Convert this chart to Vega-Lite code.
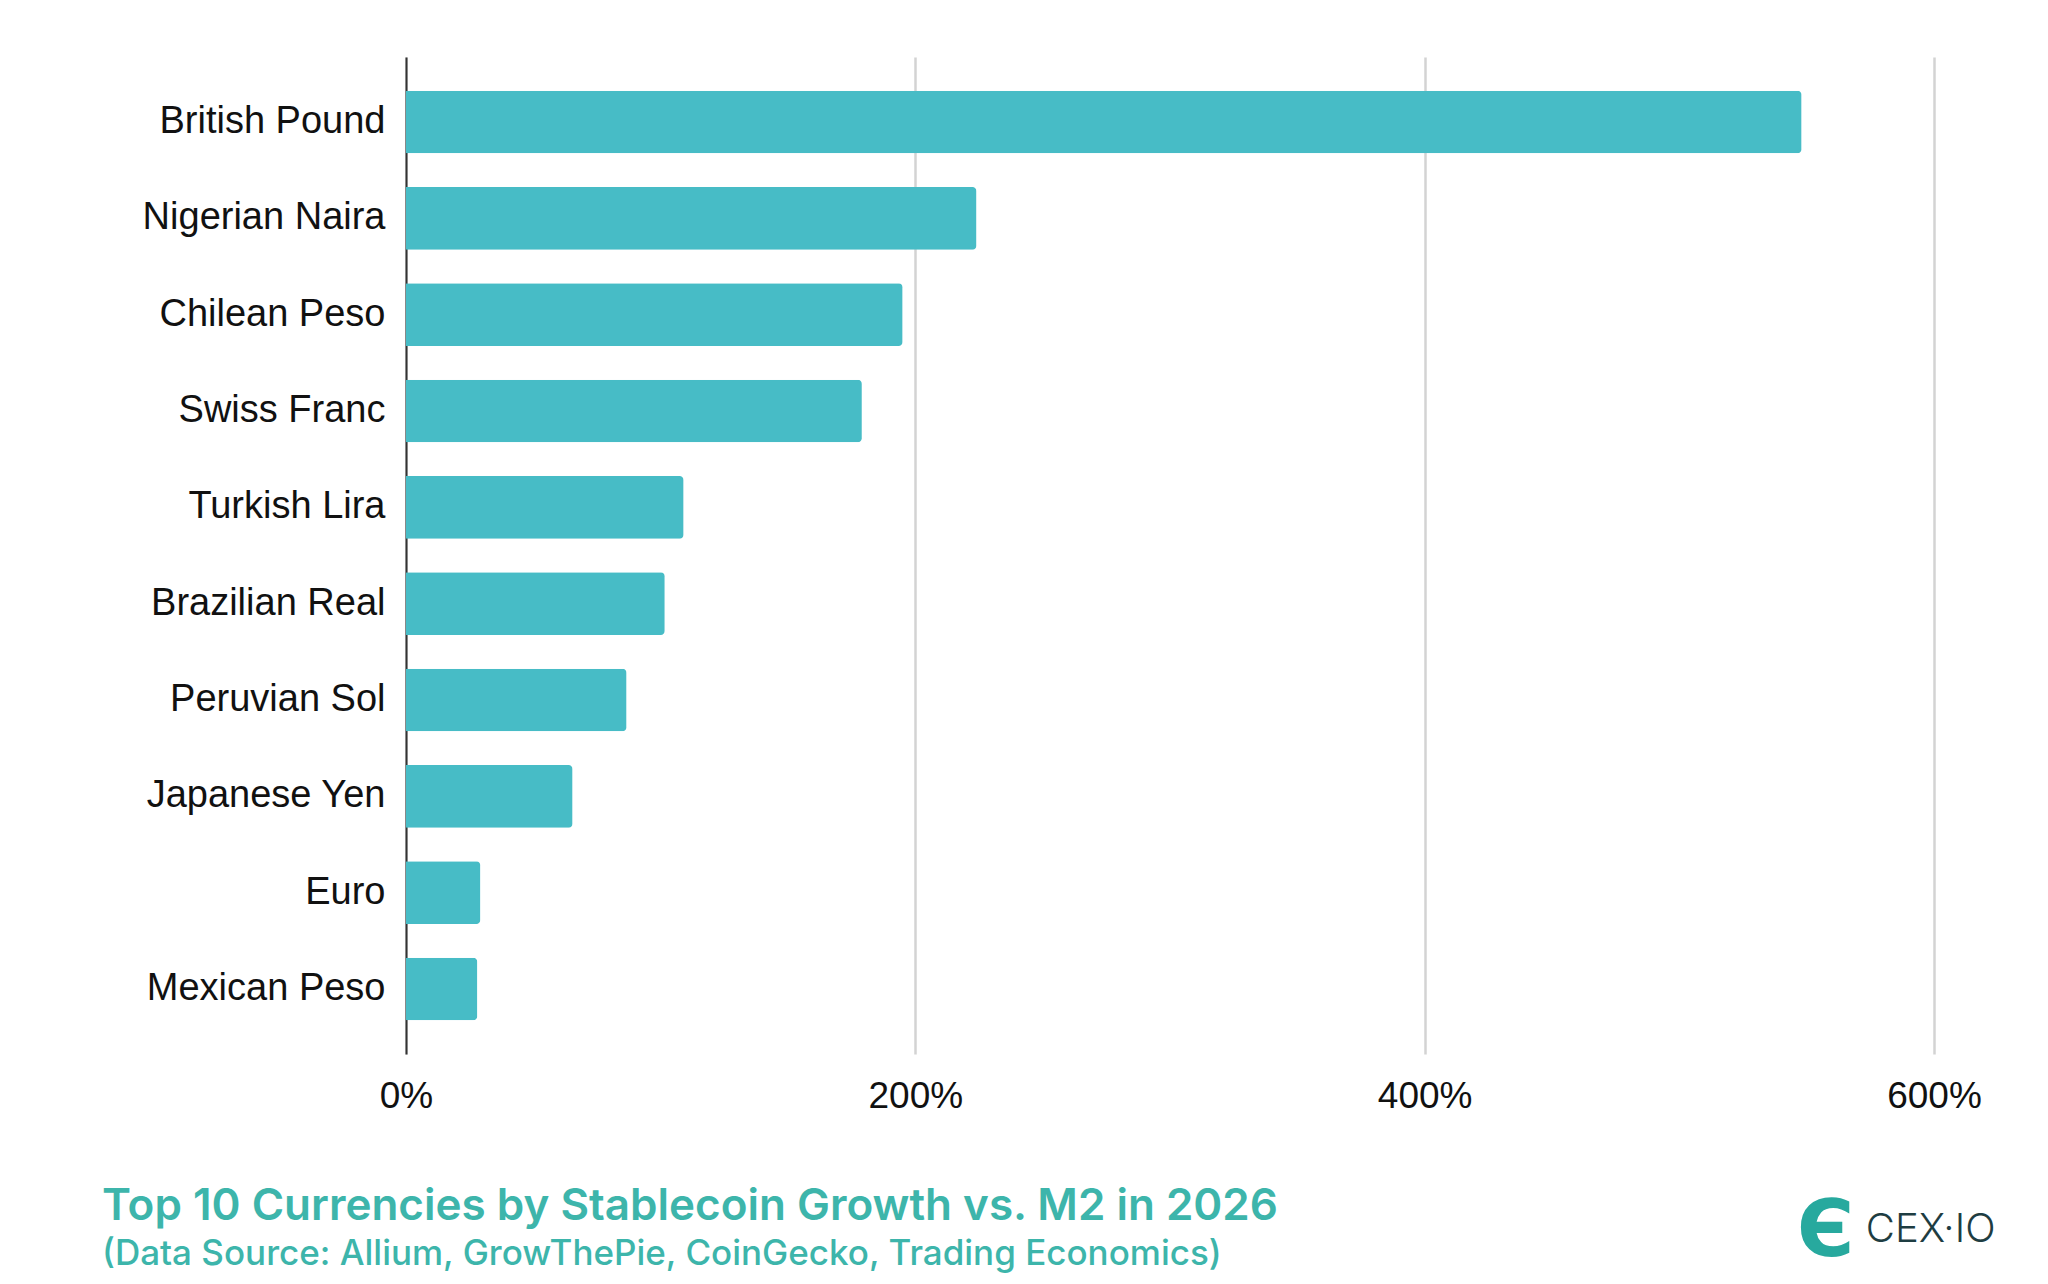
{
  "$schema": "https://vega.github.io/schema/vega-lite/v6.json",
  "width": 1528,
  "height": 997,
  "autosize": {"type": "none"},
  "padding": {"left": 406, "top": 57, "right": 114, "bottom": 230},
  "background": "white",
  "title": {
    "text": "Top 10 Currencies by Stablecoin Growth vs. M2 in 2026",
    "subtitle": "(Data Source: Allium, GrowThePie, CoinGecko, Trading Economics)",
    "orient": "bottom",
    "anchor": "start",
    "frame": "group",
    "dx": -304,
    "offset": -86,
    "font": "Inter",
    "fontSize": 44,
    "fontWeight": 600,
    "color": "#3db5ab",
    "subtitleFont": "Inter",
    "subtitleFontSize": 35,
    "subtitleFontWeight": 500,
    "subtitleColor": "#3db5ab",
    "subtitlePadding": 8
  },
  "data": {
    "values": [
      {"currency": "British Pound", "growth": 548},
      {"currency": "Nigerian Naira", "growth": 224},
      {"currency": "Chilean Peso", "growth": 195},
      {"currency": "Swiss Franc", "growth": 179},
      {"currency": "Turkish Lira", "growth": 109},
      {"currency": "Brazilian Real", "growth": 101.6},
      {"currency": "Peruvian Sol", "growth": 86.6},
      {"currency": "Japanese Yen", "growth": 65.4},
      {"currency": "Euro", "growth": 29.2},
      {"currency": "Mexican Peso", "growth": 28}
    ]
  },
  "mark": {"type": "bar", "color": "#47bcc6", "cornerRadiusEnd": 4},
  "encoding": {
    "y": {
      "field": "currency",
      "type": "nominal",
      "sort": null,
      "scale": {"paddingInner": 0.35, "paddingOuter": 0.35},
      "axis": {
        "title": "Є",
        "titleAngle": 0,
        "titleX": 1419,
        "titleY": 1198,
        "titleAlign": "center",
        "titleBaseline": "alphabetic",
        "titleFont": "DejaVu Sans",
        "titleFontSize": 78,
        "titleFontWeight": "bold",
        "titleColor": "#27a99e",
        "domainColor": "#333333",
        "domainWidth": 2,
        "ticks": false,
        "labelFont": "Liberation Sans",
        "labelFontSize": 38,
        "labelColor": "#111111",
        "labelPadding": 21,
        "labelLimit": 400
      }
    },
    "x": {
      "field": "growth",
      "type": "quantitative",
      "scale": {"domain": [0, 600], "nice": false},
      "axis": {
        "title": "CEX·IO",
        "titleX": 1589,
        "titleY": 187,
        "titleAlign": "right",
        "titleBaseline": "alphabetic",
        "titleFont": "Inter",
        "titleFontSize": 40,
        "titleFontWeight": 300,
        "titleColor": "#1e3d42",
        "values": [0, 200, 400, 600],
        "labelExpr": "datum.value + '%'",
        "labelFlush": false,
        "domain": false,
        "ticks": false,
        "grid": true,
        "gridColor": "#d3d3d3",
        "gridWidth": 2.5,
        "labelFont": "Liberation Sans",
        "labelFontSize": 37,
        "labelColor": "#111111",
        "labelPadding": 24
      }
    }
  },
  "config": {"view": {"stroke": null}}
}
